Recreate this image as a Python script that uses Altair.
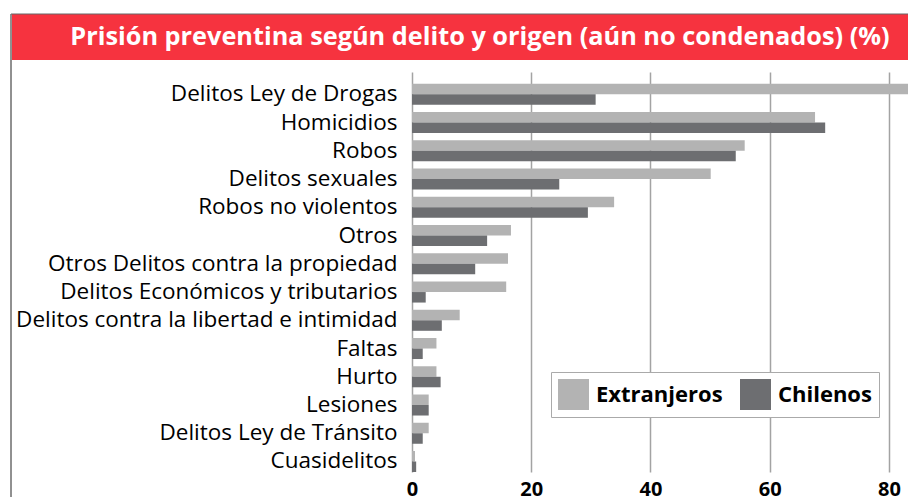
import altair as alt
import pandas as pd

categories = [
    "Delitos  Ley de Drogas",
    "Homicidios",
    "Robos",
    "Delitos sexuales",
    "Robos no violentos",
    "Otros",
    "Otros Delitos contra la propiedad",
    "Delitos Económicos y tributarios",
    "Delitos contra la libertad e intimidad",
    "Faltas",
    "Hurto",
    "Lesiones",
    "Delitos Ley de Tránsito",
    "Cuasidelitos",
]
extranjeros = [87.0, 67.6, 55.8, 50.1, 33.9, 16.6, 16.1, 15.8, 8.0, 4.1, 4.1, 2.8, 2.8, 0.5]
chilenos = [30.8, 69.3, 54.3, 24.7, 29.5, 12.6, 10.6, 2.3, 5.0, 1.8, 4.8, 2.8, 1.8, 0.7]
series = ["Extranjeros", "Chilenos"]
colors = ["#b3b3b3", "#6d6e71"]
x_ticks = [0, 20, 40, 60, 80]
title_text = "Prisión preventina según delito y origen (aún no condenados) (%)"

FONT = "Open Sans"

df = pd.DataFrame({
    "delito": categories * 2,
    "serie": [series[0]] * len(categories) + [series[1]] * len(categories),
    "valor": extranjeros + chilenos,
})
deco = pd.DataFrame({"t": [title_text]})

bars = alt.Chart(df).mark_bar(clip=True).encode(
    x=alt.X(
        "valor:Q",
        scale=alt.Scale(domain=[0, 83.19], nice=False, zero=True),
        axis=alt.Axis(
            values=x_ticks, title=None, grid=True, gridColor="#a3a3a3", gridWidth=1.5,
            domain=False, ticks=False, labelFontSize=20, labelFontWeight="bold",
            labelColor="black", labelPadding=23, labelBaseline="alphabetic",
            labelFont=FONT, labelFlush=False,
        ),
    ),
    y=alt.Y(
        "delito:N", sort=categories,
        scale=alt.Scale(paddingInner=0.256, paddingOuter=0.21, align=1),
        axis=alt.Axis(
            title=None, ticks=False, domain=False, labelFontSize=22.5, labelFont=FONT,
            labelColor="black", labelPadding=15, labelLimit=0,
        ),
    ),
    yOffset=alt.YOffset("serie:N", sort=series, scale=alt.Scale(paddingInner=0, paddingOuter=0)),
    color=alt.Color(
        "serie:N", sort=series,
        scale=alt.Scale(domain=series, range=colors),
        legend=alt.Legend(
            orient="none", legendX=139, legendY=300, direction="horizontal", title=None,
            symbolType="square", symbolSize=961, symbolStrokeWidth=0, symbolOpacity=1,
            labelFontSize=22, labelFontWeight="bold", labelFont=FONT, labelColor="black",
            strokeColor="#aaaaaa", fillColor="white", padding=7, columnPadding=17,
            labelOffset=7,
        ),
    ),
)

band = alt.Chart(deco).mark_rect(color="#f6333f").encode(
    x=alt.value(-400), x2=alt.value(496), y=alt.value(-58), y2=alt.value(-12)
)
title = alt.Chart(deco).mark_text(
    color="white", fontSize=25.3, fontWeight="bold", font=FONT, align="center", baseline="middle"
).encode(text="t:N", x=alt.value(68), y=alt.value(-35))
left_line = alt.Chart(deco).mark_rule(color="#222222", strokeWidth=1).encode(
    x=alt.value(-401), y=alt.value(-58), y2=alt.value(440)
)
top_line = alt.Chart(deco).mark_rule(color="#666666", strokeWidth=1).encode(
    x=alt.value(-401), x2=alt.value(496), y=alt.value(-58)
)

chart = alt.layer(band, title, left_line, top_line, bars).properties(
    width=496, height=400,
    autosize=alt.AutoSizeParams(type="none"),
    padding={"left": 404, "top": 64, "right": 0, "bottom": 30},
).configure_view(stroke=None)

chart.save("out.html", embed_options={"renderer": "svg", "actions": False})
